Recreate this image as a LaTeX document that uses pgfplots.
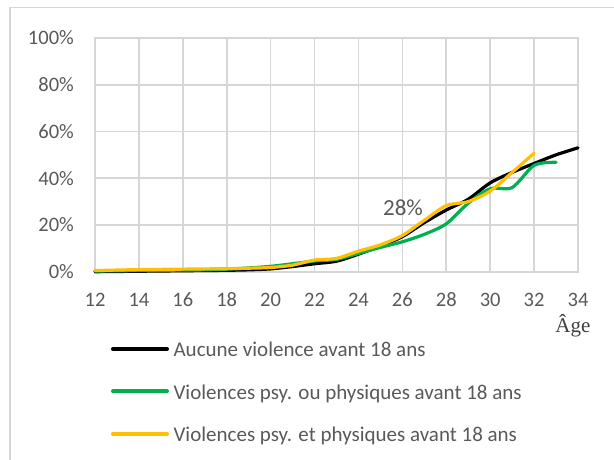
\documentclass[border=0pt]{standalone}
\usepackage{pgfplots}
\pgfplotsset{compat=1.18}
\usepackage{fontspec}
\setmainfont{Carlito}
\newfontfamily\seriffont{Liberation Serif}
\definecolor{txt}{HTML}{595959}
\definecolor{gridc}{HTML}{D6D6D6}
\definecolor{xlgreen}{HTML}{00B050}
\definecolor{xlyellow}{HTML}{FFC000}
\begin{document}
\begin{tikzpicture}
\path[use as bounding box] (0,0) rectangle (614pt,459pt);
\draw[gridc, line width=1.8pt] (10pt,-5pt) -- (10pt,451.5pt) -- (620pt,451.5pt);
\begin{axis}[
  at={(95pt,187.3pt)}, anchor=south west,
  width=483pt, height=233.7pt, scale only axis,
  xmin=12, xmax=34, ymin=0, ymax=100,
  xtick={12,14,...,34}, ytick={0,20,...,100},
  grid=major, major grid style={gridc, line width=1.6pt},
  axis line style={gridc, line width=1.6pt},
  major tick length=0pt,
  tick label style={font=\fontsize{20.5}{24}\selectfont, text=txt},
  /pgf/number format/assume math mode=true,
  yticklabel={\pgfmathprintnumber{\tick}\%},
  xticklabel style={anchor=center, yshift=-28pt},
  yticklabel style={anchor=east, inner sep=0pt, xshift=-21pt},
  clip=false,
  legend image code/.code={\draw[#1, line width=4pt] (0pt,0pt) -- (54pt,0pt); \path (57pt,0pt);},
  legend style={draw=none, fill=none, inner sep=0pt, outer sep=0pt,
    at={(axis description cs:0.0331,-0.2837)}, anchor=north west,
    font=\fontsize{21}{24}\selectfont, text=txt,
    nodes={inner sep=2pt}, row sep=20pt},
  legend cell align=left,
]
\addplot[black, line width=3.2pt, line cap=round, line join=round, smooth, tension=0.5] coordinates {
(12,0) (13,0.1) (14,0.2) (15,0.3) (16,0.4) (17,0.5) (18,0.6) (19,0.8) (20,1.2) (21,2.2)
(22,3.4) (23,4.5) (24,7.5) (25,11) (26,15) (27,21) (28,26.4) (29,31) (30,38) (31,42.5)
(32,46.3) (33,50) (34,53)};
\addlegendentry{\strut Aucune violence avant 18 ans}
\addplot[xlgreen, line width=3.2pt, line cap=round, line join=round, smooth, tension=0.5] coordinates {
(12,0.3) (13,0.4) (14,0.5) (15,0.6) (16,0.7) (17,0.8) (18,1.1) (19,1.6) (20,2.3) (21,3.4)
(22,4.6) (23,5.3) (24,7.8) (25,10.4) (26,12.8) (27,16) (28,20.5) (29,29.3) (30,35.5) (31,36)
(32,45.5) (33,46.8)};
\addlegendentry{\strut Violences psy. ou physiques avant 18 ans}
\addplot[xlyellow, line width=3.2pt, line cap=round, line join=round, smooth, tension=0.5] coordinates {
(12,0.5) (13,0.7) (14,0.9) (15,1.0) (16,1.1) (17,1.2) (18,1.3) (19,1.5) (20,1.8) (21,2.8)
(22,5.0) (23,5.7) (24,8.8) (25,11.5) (26,15.5) (27,22) (28,28.3) (29,30) (30,34.5) (31,42.5)
(32,50.7)};
\addlegendentry{\strut Violences psy. et physiques avant 18 ans}
\node[font=\fontsize{23}{27}\selectfont, text=txt] at (axis cs:26.03,27.3) {28\%};
\node[font=\seriffont\fontsize{21}{25}\selectfont, text=black!75, anchor=base] at (axis cs:33.77,-26.2) {Âge};
\end{axis}
\end{tikzpicture}
\end{document}
